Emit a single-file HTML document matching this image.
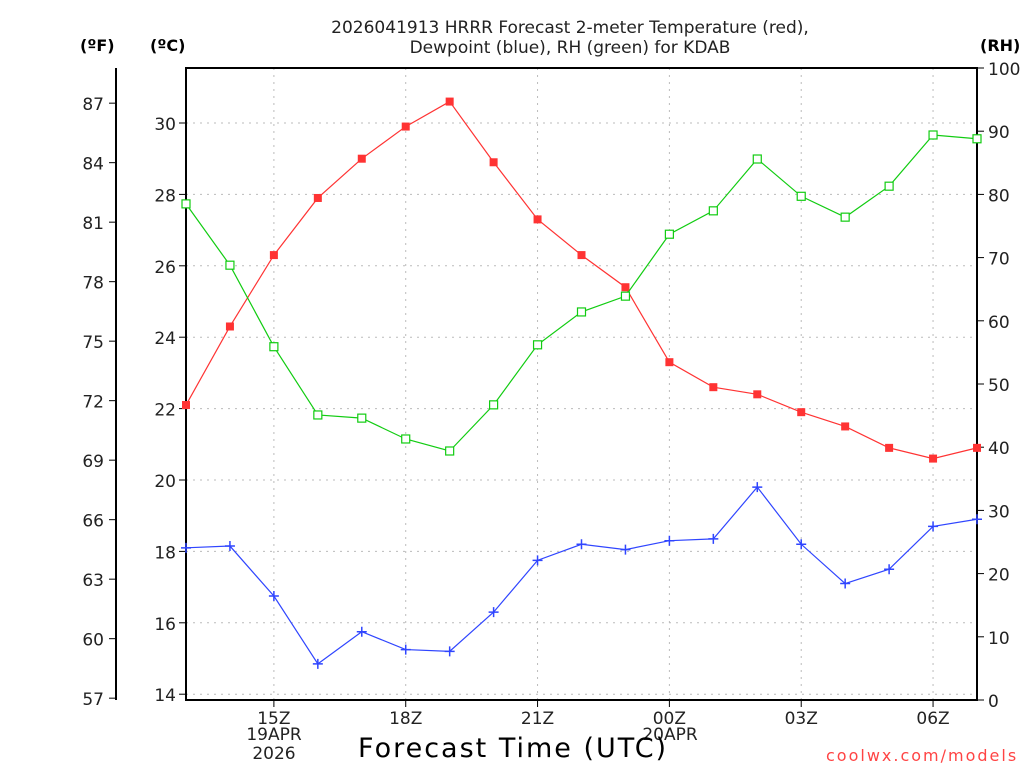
<!DOCTYPE html>
<html><head><meta charset="utf-8"><style>
body{margin:0;background:#fff;width:1024px;height:768px;overflow:hidden}
svg text{font-family:"DejaVu Sans","Liberation Sans",sans-serif;fill:#222}
</style></head><body>
<svg id="chart" width="1024" height="768" xmlns="http://www.w3.org/2000/svg"></svg>
<script>
const hours=["13Z","14Z","15Z","16Z","17Z","18Z","19Z","20Z","21Z","22Z","23Z","00Z","01Z","02Z","03Z","04Z","05Z","06Z","07Z"];
const tempC=[22.1,24.3,26.3,27.9,29.0,29.9,30.6,28.9,27.3,26.3,25.4,23.3,22.6,22.4,21.9,21.5,20.9,20.6,20.9];
const dewC=[18.1,18.15,16.75,14.85,15.75,15.25,15.2,16.3,17.75,18.2,18.05,18.3,18.35,19.8,18.2,17.1,17.5,18.7,18.9];
const rh=[78.5,68.8,55.9,45.1,44.6,41.3,39.4,46.7,56.2,61.4,63.9,73.7,77.4,85.6,79.7,76.4,81.3,89.4,88.8];
const cTicks=[14,16,18,20,22,24,26,28,30];
const fTicks=[57,60,63,66,69,72,75,78,81,84,87];
const rhTicks=[0,10,20,30,40,50,60,70,80,90,100];
const xLabelIdx=[2,5,8,11,14,17];
const NS="http://www.w3.org/2000/svg";
const svg=document.getElementById('chart');
const L=186,R=977,T=68,B=700;
const x=i=>L+i*(R-L)/(hours.length-1);
const yC=c=>480-(c-20)*35.7;
const yF=f=>yC((f-32)*5/9);
const yRH=r=>B-r*(B-T)/100;
function el(tag,a,txt){const e=document.createElementNS(NS,tag);for(const k in a)e.setAttribute(k,a[k]);if(txt!=null)e.textContent=txt;svg.appendChild(e);return e;}
cTicks.forEach(c=>{const e=el('line',{x1:L,x2:R,y1:yC(c),y2:yC(c),stroke:'#bbb','stroke-dasharray':'2,5'});


el('line',{x1:L-7,x2:L,y1:yC(c),y2:yC(c),stroke:'#000'});
const lb=el('text',{x:L-10,y:yC(c)+7,'text-anchor':'end','font-size':'17'},c);

});
xLabelIdx.forEach(i=>{const e=el('line',{x1:x(i),x2:x(i),y1:T,y2:B,stroke:'#bbb','stroke-dasharray':'2,5'});


el('line',{x1:x(i),x2:x(i),y1:B,y2:B+7,stroke:'#000'});
const lb=el('text',{x:x(i),y:724,'text-anchor':'middle','font-size':'17'},hours[i]);

});
el('line',{x1:116,x2:116,y1:68,y2:700,stroke:'#000','stroke-width':2});
fTicks.forEach(f=>{el('line',{x1:109,x2:116,y1:yF(f),y2:yF(f),stroke:'#000'});
const lb=el('text',{x:104,y:yF(f)+7,'text-anchor':'end','font-size':'17'},f);

});
rhTicks.forEach(r=>{el('line',{x1:R,x2:R+7,y1:yRH(r),y2:yRH(r),stroke:'#000'});
const lb=el('text',{x:988,y:yRH(r)+7,'font-size':'17'},r);

});
const box=el('rect',{x:L,y:T,width:R-L,height:B-T,fill:'none',stroke:'#000','stroke-width':2});


function series(vals,yf,color,marker,name){
 const p=el('polyline',{points:vals.map((v,i)=>x(i)+','+yf(v)).join(' '),fill:'none',stroke:color,'stroke-width':1.2});
 
 
 vals.forEach((v,i)=>{const cx=x(i),cy=yf(v);let m;
  if(marker==='fill')m=el('rect',{x:cx-4,y:cy-4,width:8,height:8,fill:color});
  else if(marker==='open')m=el('rect',{x:cx-4,y:cy-4,width:8,height:8,fill:'#fff',stroke:color,'stroke-width':1.2});
  else m=el('path',{d:`M${cx-5},${cy}H${cx+5}M${cx},${cy-5}V${cy+5}`,stroke:color,'stroke-width':1.5});
  
  });
}
series(tempC,yC,'#f33','fill','temperature');
series(dewC,yC,'#2f45ff','plus','dewpoint');
series(rh,yRH,'#1c1','open','rh');
</script>
<div style="position:absolute;left:0;top:0;width:1024px;height:768px;font-family:'DejaVu Sans','Liberation Sans',sans-serif">
<div style="position:absolute;left:240px;top:18px;width:660px;text-align:center;font-size:17px;line-height:20px;color:#222">2026041913 HRRR Forecast 2-meter Temperature (red),<br>Dewpoint (blue), RH (green) for KDAB</div>
<div style="position:absolute;left:80px;top:36px;font-weight:bold;font-size:16px">(ºF)</div>
<div style="position:absolute;left:150px;top:36px;font-weight:bold;font-size:16px">(ºC)</div>
<div style="position:absolute;left:980px;top:36px;font-weight:bold;font-size:16px">(RH)</div>
<div style="position:absolute;left:234px;top:726px;width:80px;text-align:center;font-size:17px;line-height:19px;color:#222">19APR<br>2026</div>
<div style="position:absolute;left:630px;top:726px;width:80px;text-align:center;font-size:17px;line-height:19px;color:#222">20APR</div>
<div style="position:absolute;left:358px;top:733px;font-size:27px;letter-spacing:2px;color:#000">Forecast Time (UTC)</div>
<div style="position:absolute;left:826px;top:746px;font-size:16px;color:#f44;letter-spacing:2px">coolwx.com/models</div>
</div>
</body></html>
